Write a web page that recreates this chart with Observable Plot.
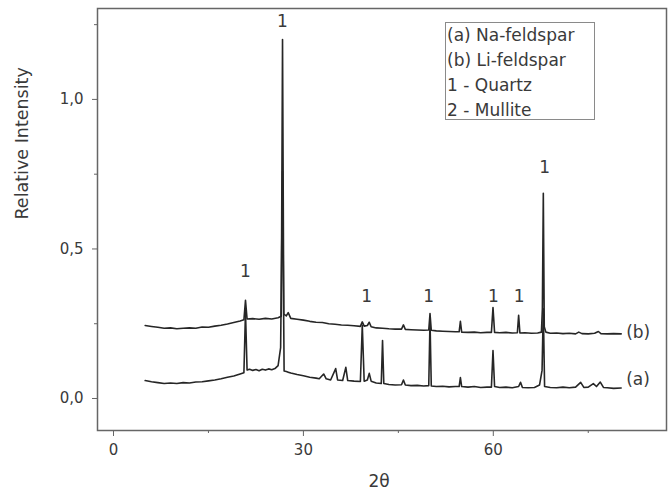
<!DOCTYPE html>
<html>
<head>
<meta charset="utf-8">
<script src="https://cdn.jsdelivr.net/npm/d3@7"></script>
<script src="https://cdn.jsdelivr.net/npm/@observablehq/plot@0.6"></script>
<style>
  html, body { margin: 0; padding: 0; background: #fff; }
  #wrap { position: relative; width: 669px; height: 495px; font-family: "DejaVu Sans", sans-serif; }
  #legend { position: absolute; left: 445px; top: 22px; width: 150px; height: 98px;
            border: 1px solid #8a8a8a; box-sizing: border-box; padding-left: 1px;
            font-size: 17px; line-height: 25px; color: #3a3a3a; }
  #legend div { white-space: nowrap; }
</style>
</head>
<body>
<div id="wrap"><div id="legend"></div></div>
<script>
// 2θ positions and relative intensities, (b) Li-feldspar
const xB = [5.0,6.0,7.0,8.0,9.0,10.0,11.0,12.0,13.0,14.0,15.0,16.0,17.0,18.0,19.0,20.0,20.6,20.85,21.1,22.0,23.0,24.0,25.0,26.0,26.5,26.7,26.9,27.3,27.6,28.0,29.0,30.0,31.0,32.0,33.0,34.0,35.0,36.0,37.0,38.0,39.0,39.3,39.6,40.1,40.4,40.7,41.5,42.5,43.5,44.5,45.5,45.8,46.1,47.0,48.0,49.0,49.8,50.0,50.2,51.0,52.0,53.0,54.0,54.6,54.8,55.0,56.0,57.0,58.0,59.0,59.7,59.95,60.2,61.0,62.0,63.0,63.8,64.0,64.2,65.0,66.0,67.0,67.6,67.75,67.9,68.05,68.3,69.0,70.0,71.0,72.0,73.0,73.5,74.0,75.0,76.0,76.6,77.0,78.0,79.0,80.2];
const yB = [0.244,0.241,0.238,0.235,0.236,0.233,0.235,0.236,0.235,0.239,0.238,0.242,0.245,0.249,0.254,0.259,0.263,0.328,0.266,0.267,0.265,0.268,0.266,0.270,0.275,1.200,0.282,0.276,0.287,0.268,0.265,0.262,0.258,0.255,0.254,0.250,0.248,0.246,0.245,0.243,0.241,0.256,0.242,0.244,0.255,0.240,0.236,0.235,0.233,0.232,0.232,0.246,0.231,0.230,0.229,0.228,0.229,0.284,0.228,0.226,0.225,0.224,0.223,0.223,0.258,0.222,0.221,0.222,0.220,0.221,0.221,0.304,0.221,0.220,0.221,0.219,0.220,0.278,0.219,0.220,0.218,0.219,0.222,0.300,0.686,0.240,0.222,0.218,0.219,0.217,0.218,0.216,0.222,0.217,0.216,0.218,0.224,0.217,0.216,0.217,0.216];

// (a) Na-feldspar
const xA = [5.0,6.0,7.0,8.0,9.0,10.0,11.0,12.0,13.0,14.0,15.0,16.0,17.0,18.0,19.0,20.0,20.6,20.85,21.1,21.5,22.0,22.5,23.0,23.5,24.0,24.5,25.0,25.5,26.0,26.4,26.7,26.95,27.3,27.6,28.0,29.0,30.0,31.0,32.0,32.5,33.2,33.6,34.3,35.1,35.4,36.2,36.7,37.0,38.0,39.0,39.3,39.6,40.1,40.4,40.7,41.5,42.3,42.5,42.7,43.5,44.5,45.5,45.8,46.1,47.0,48.0,49.0,49.8,50.0,50.2,51.0,52.0,53.0,54.0,54.6,54.8,55.0,56.0,57.0,58.0,59.0,59.7,59.95,60.2,61.0,62.0,63.0,64.0,64.3,64.6,65.5,66.5,67.3,67.7,67.9,68.1,69.0,70.0,71.0,72.0,73.0,73.8,74.3,75.0,75.8,76.3,76.9,77.4,78.0,79.0,80.2];
const yA = [0.060,0.056,0.053,0.050,0.052,0.050,0.053,0.052,0.055,0.056,0.059,0.062,0.066,0.071,0.075,0.082,0.086,0.290,0.095,0.098,0.094,0.097,0.093,0.098,0.095,0.099,0.096,0.100,0.110,0.170,0.760,0.092,0.090,0.088,0.085,0.080,0.076,0.071,0.068,0.066,0.082,0.066,0.062,0.100,0.062,0.060,0.104,0.060,0.058,0.057,0.245,0.058,0.062,0.084,0.058,0.052,0.050,0.194,0.050,0.047,0.045,0.046,0.062,0.045,0.043,0.044,0.042,0.043,0.260,0.042,0.040,0.041,0.039,0.040,0.040,0.070,0.040,0.038,0.040,0.037,0.038,0.038,0.160,0.040,0.037,0.038,0.036,0.040,0.054,0.037,0.036,0.037,0.045,0.094,0.300,0.040,0.037,0.036,0.038,0.036,0.038,0.054,0.037,0.038,0.050,0.040,0.055,0.037,0.036,0.034,0.035];

// phase markers (1 = Quartz)
const markX = [20.85, 26.7, 40.0, 49.8, 60.0, 64.1, 68.1];
const markY = [0.425, 1.261, 0.341, 0.341, 0.341, 0.341, 0.773];
const markText = ["1", "1", "1", "1", "1", "1", "1"];

const seriesNames = ["(a)", "(b)"];
const legendItems = ["(a) Na-feldspar", "(b) Li-feldspar", "1 - Quartz", "2 - Mullite"];
const xMajor = [0, 30, 60];
const xMinor = [15, 45, 75];
const yMajor = [0, 0.5, 1.0];
const yMinor = [0.25, 0.75, 1.25];

const dataA = xA.map((x, i) => ({x, y: yA[i]}));
const dataB = xB.map((x, i) => ({x, y: yB[i]}));
const marks = markX.map((x, i) => ({x, y: markY[i], t: markText[i]}));
const endA = [{x: xA[xA.length - 1], y: yA[yA.length - 1], t: seriesNames[0]}];
const endB = [{x: xB[xB.length - 1], y: yB[yB.length - 1], t: seriesNames[1]}];

const ink = "#3a3a3a";
const chart = Plot.plot({
  width: 669,
  height: 495,
  marginLeft: 97,
  marginRight: 3,
  marginTop: 8,
  marginBottom: 65,
  style: {fontFamily: "DejaVu Sans, sans-serif", color: ink, background: "#fff"},
  x: {domain: [-2.53, 87.36]},
  y: {domain: [-0.107, 1.304]},
  marks: [
    Plot.axisX({ticks: xMajor, tickSize: 6, tickPadding: 8, fontSize: 15, label: null, stroke: "#666"}),
    Plot.axisX({ticks: xMinor, tickSize: 3, tickFormat: () => "", label: null, stroke: "#666"}),
    Plot.axisY({ticks: yMajor, tickSize: 5, tickPadding: 9, fontSize: 15, label: null, stroke: "#666",
                tickFormat: d => d.toFixed(1).replace(".", ",")}),
    Plot.axisY({ticks: yMinor, tickSize: 3, tickFormat: () => "", label: null, stroke: "#666"}),
    Plot.line(dataA, {x: "x", y: "y", stroke: "#262626", strokeWidth: 1.6}),
    Plot.line(dataB, {x: "x", y: "y", stroke: "#262626", strokeWidth: 1.6}),
    Plot.text(marks, {x: "x", y: "y", text: "t", fontSize: 17, fill: ink}),
    Plot.text(endA, {x: "x", y: "y", text: "t", textAnchor: "start", dx: 5, dy: -8, fontSize: 17, fill: ink}),
    Plot.text(endB, {x: "x", y: "y", text: "t", textAnchor: "start", dx: 5, dy: -1, fontSize: 17, fill: ink}),
    Plot.text(["2θ"], {frameAnchor: "bottom", dy: 56, dx: -3, fontSize: 17, fill: ink}),
    Plot.text(["Relative Intensity"], {frameAnchor: "left", dx: -75, rotate: -90, fontSize: 17.5, fill: ink}),
    Plot.frame({stroke: "#666", strokeWidth: 1.5})
  ]
});
const wrap = document.getElementById("wrap");
wrap.insertBefore(chart, wrap.firstChild);
const legend = document.getElementById("legend");
legendItems.forEach(t => { const d = document.createElement("div"); d.textContent = t; legend.appendChild(d); });
</script>
</body>
</html>
